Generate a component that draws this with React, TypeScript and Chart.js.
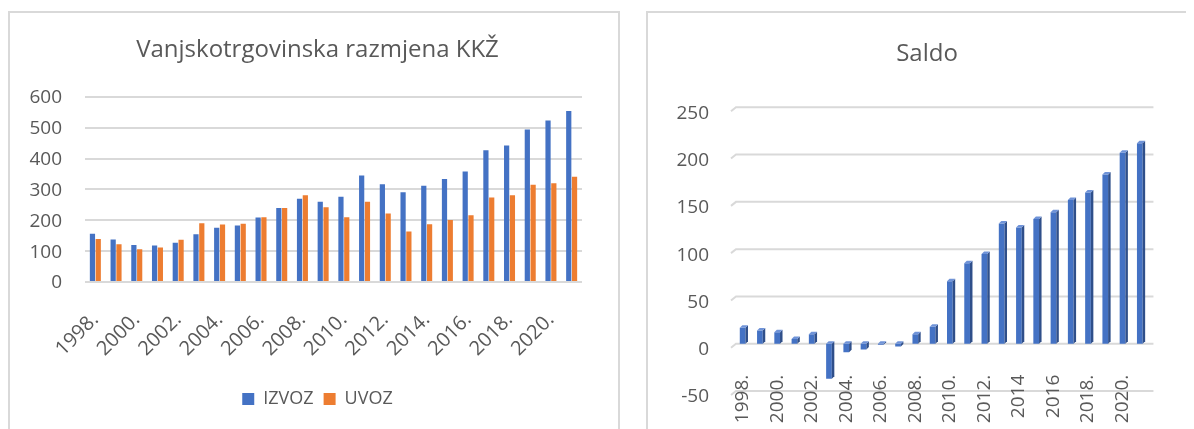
import React, { useEffect, useRef } from "react";
import { Chart, registerables } from "chart.js";

Chart.register(...registerables);

// ---------- data ----------
const YEARS = [
  "1998.", "1999.", "2000.", "2001.", "2002.", "2003.", "2004.", "2005.",
  "2006.", "2007.", "2008.", "2009.", "2010.", "2011.", "2012.", "2013.",
  "2014.", "2015.", "2016.", "2017.", "2018.", "2019.", "2020.", "2021.",
];
const IZVOZ = [156, 138, 120, 118, 127, 155, 176, 183, 209, 240, 270, 260, 276, 345, 317, 291, 312, 334, 358, 427, 442, 494, 523, 554];
const UVOZ = [139, 122, 106, 112, 137, 190, 186, 189, 210, 240, 281, 242, 210, 260, 222, 164, 187, 201, 216, 274, 281, 315, 320, 341];

const SALDO_LABELS = [
  "1998.", "1999.", "2000.", "2001.", "2002.", "2003.", "2004.", "2005.",
  "2006.", "2007.", "2008.", "2009.", "2010.", "2011.", "2012.", "2013.",
  "2014", "2015", "2016", "2017", "2018.", "2019.", "2020.", "2021.",
];
const SALDO = [17, 14, 12, 5, 10, -37, -9, -6, -1, -3, 10, 18, 66, 85, 95, 127, 123, 132, 139, 152, 160, 179, 202, 212];

const LEFT_TITLE = "Vanjskotrgovinska razmjena KKŽ";
const RIGHT_TITLE = "Saldo";
const SERIES_NAMES = ["IZVOZ", "UVOZ"];

// ---------- styles ----------
const FONT = "'Open Sans', 'Noto Sans', sans-serif";
const TEXT = "#595959";
const GRID = "#d9d9d9";
const BLUE = "#4472c4";
const ORANGE = "#ed7d31";

const bar3d = {
  id: "bar3d",
  afterDatasetsDraw(chart: any) {
    const ctx = chart.ctx;
    const meta = chart.getDatasetMeta(0);
    const d = 2.5;
    const h = 2.5;
    meta.data.forEach((el: any) => {
      const { x, y, base, width } = el.getProps(["x", "y", "base", "width"], true);
      const l = x - width / 2;
      const r = x + width / 2;
      const top = Math.min(y, base);
      const bot = Math.max(y, base);
      ctx.save();
      ctx.fillStyle = "#2f4f8a";
      ctx.beginPath();
      ctx.moveTo(r, top);
      ctx.lineTo(r + d, top - h);
      ctx.lineTo(r + d, bot - h);
      ctx.lineTo(r, bot);
      ctx.closePath();
      ctx.fill();
      ctx.fillStyle = "#6f93d8";
      ctx.beginPath();
      ctx.moveTo(l, top);
      ctx.lineTo(l + d, top - h);
      ctx.lineTo(r + d, top - h);
      ctx.lineTo(r, top);
      ctx.closePath();
      ctx.fill();
      ctx.restore();
    });
  },
};

// back-wall gridlines with a short floor slant, drawn beneath axis labels
const wallGrid = {
  id: "wallGrid",
  beforeDraw(chart: any) {
    const ctx = chart.ctx;
    const ys = chart.scales.y;
    const { left, right } = chart.chartArea;
    ctx.save();
    ctx.strokeStyle = GRID;
    ctx.lineWidth = 2;
    ys.ticks.forEach((t: any) => {
      const y = ys.getPixelForValue(t.value);
      ctx.beginPath();
      ctx.moveTo(left - 3, y + 4);
      ctx.lineTo(left + 2, y);
      ctx.lineTo(right + 5, y);
      ctx.stroke();
    });
    ctx.restore();
  },
};

function LeftChart() {
  const ref = useRef<HTMLCanvasElement>(null);
  useEffect(() => {
    const chart = new Chart(ref.current!, {
      type: "bar",
      data: {
        labels: YEARS,
        datasets: [
          { label: SERIES_NAMES[0], data: IZVOZ, backgroundColor: BLUE, categoryPercentage: 0.56, barPercentage: 0.9 },
          { label: SERIES_NAMES[1], data: UVOZ, backgroundColor: ORANGE, categoryPercentage: 0.56, barPercentage: 0.9 },
        ],
      },
      options: {
        animation: false,
        responsive: false,
        maintainAspectRatio: false,
        layout: { padding: { left: 7, right: 0, top: 0, bottom: 11 } },
        plugins: {
          title: {
            display: true,
            text: LEFT_TITLE,
            color: TEXT,
            font: { family: FONT, size: 24, weight: "normal" },
            padding: { top: 23, bottom: 32 },
          },
          legend: {
            position: "bottom",
            labels: {
              color: TEXT,
              font: { family: FONT, size: 18 },
              boxWidth: 12,
              boxHeight: 12,
              padding: 10,
            },
          },
          tooltip: { enabled: false },
        },
        scales: {
          x: {
            grid: { display: false },
            border: { display: false },
            ticks: {
              color: TEXT,
              font: { family: FONT, size: 20 },
              autoSkip: false,
              minRotation: 45,
              maxRotation: 45,
              padding: 18,
              callback: (_v: any, i: number) => (i % 2 === 0 ? YEARS[i] : ""),
            },
            afterFit: (s: any) => { s.height = 98; },
          },
          y: {
            min: 0,
            max: 600,
            ticks: { stepSize: 100, color: TEXT, font: { family: FONT, size: 19 }, padding: 23, labelOffset: 1 },
            grid: { color: GRID, lineWidth: 2, drawTicks: false },
            border: { display: false },
            afterFit: (s: any) => { s.width = 68; },
          },
          y2: {
            position: "right",
            display: true,
            grid: { display: false },
            ticks: { display: false },
            border: { display: false },
            afterFit: (s: any) => { s.width = 36; },
          },
        },
      } as any,
    });
    return () => chart.destroy();
  }, []);
  return <canvas ref={ref} width={608} height={416} style={{ position: "absolute", left: 2, top: 5, width: 608, height: 416 }} />;
}

function RightChart() {
  const ref = useRef<HTMLCanvasElement>(null);
  useEffect(() => {
    const chart = new Chart(ref.current!, {
      type: "bar",
      data: {
        labels: SALDO_LABELS,
        datasets: [
          { label: RIGHT_TITLE, data: SALDO, backgroundColor: BLUE, categoryPercentage: 0.33, barPercentage: 1 },
        ],
      },
      plugins: [wallGrid, bar3d],
      options: {
        animation: false,
        responsive: false,
        maintainAspectRatio: false,
        layout: { padding: { left: 20, right: 0, top: 0, bottom: 38 } },
        plugins: {
          title: {
            display: true,
            text: RIGHT_TITLE,
            color: TEXT,
            font: { family: FONT, size: 24, weight: "normal" },
            padding: { top: 27, bottom: 38.5 },
          },
          legend: { display: false },
          tooltip: { enabled: false },
        },
        scales: {
          x: {
            position: { y: 0 },
            grid: { display: false },
            border: { display: false },
            ticks: {
              color: TEXT,
              font: { family: FONT, size: 19 },
              autoSkip: false,
              minRotation: 90,
              maxRotation: 90,
              padding: 23,
              callback: (_v: any, i: number) => (i % 2 === 0 ? SALDO_LABELS[i] : ""),
            },
          },
          y: {
            min: -50,
            max: 250,
            ticks: { stepSize: 50, color: TEXT, font: { family: FONT, size: 19 }, padding: 25, labelOffset: 6 },
            grid: { display: false, drawTicks: false },
            border: { display: false },
            afterFit: (s: any) => { s.width = 66; },
          },
          y2: {
            position: "right",
            display: true,
            grid: { display: false },
            ticks: { display: false },
            border: { display: false },
            afterFit: (s: any) => { s.width = 19; },
          },
        },
      } as any,
    });
    return () => chart.destroy();
  }, []);
  return <canvas ref={ref} width={538} height={416} style={{ position: "absolute", left: 640, top: 5, width: 538, height: 416 }} />;
}

export default function App() {
  return (
    <div style={{ position: "relative", width: 1178, height: 421, overflow: "hidden" }}>
      <div style={{ position: "absolute", left: 0, top: 3, width: 612, height: 418, border: `2px solid ${GRID}`, borderBottom: "none", boxSizing: "border-box" }} />
      <div style={{ position: "absolute", left: 638, top: 3, width: 540, height: 418, border: `2px solid ${GRID}`, borderBottom: "none", borderRight: "none", boxSizing: "border-box" }} />
      <LeftChart />
      <RightChart />
    </div>
  );
}
